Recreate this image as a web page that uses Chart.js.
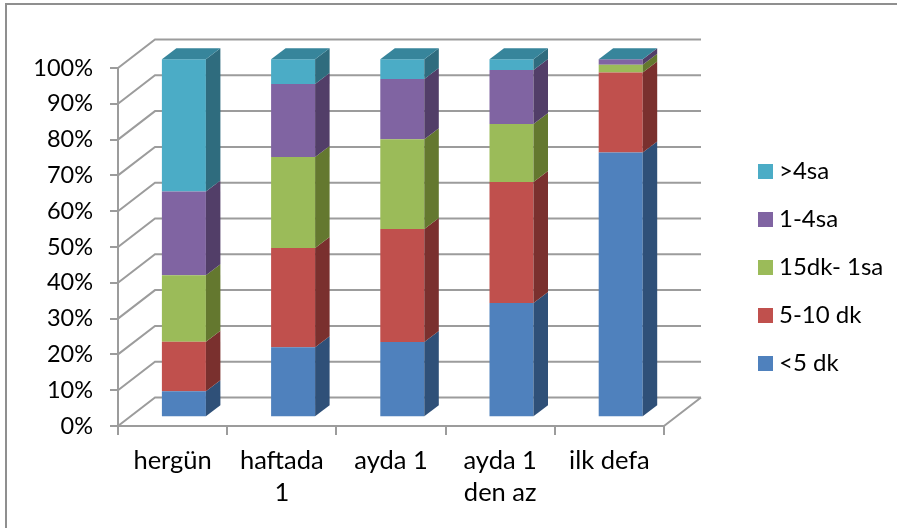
<!DOCTYPE html>
<html>
<head>
<meta charset="utf-8">
<style>
  html, body { margin: 0; background: #fff; }
  canvas { display: block; }
</style>
<script src="https://cdn.jsdelivr.net/npm/chart.js@4"></script>
</head>
<body>
<canvas id="sureChart" width="897" height="528"></canvas>
<script>
const categories = ['hergün', ['haftada', '1'], 'ayda 1', ['ayda 1', 'den az'], 'ilk defa'];
const under5dk = [7.3, 19.6, 21, 31.9, 74];
const dk5to10 = [13.8, 27.7, 31.6, 33.8, 22.3];
const dk15to1sa = [18.6, 25.4, 25.1, 16.2, 2.2];
const sa1to4 = [23.4, 20.4, 16.8, 15.1, 1.5];
const over4sa = [36.9, 6.9, 5.5, 3, 0];
const yTicks = [0, 10, 20, 30, 40, 50, 60, 70, 80, 90, 100];

const FONT = 'Lato, "Open Sans", sans-serif';
const GRID = '#9c9c9c';
const INK = '#000';

// depth of the box behind the axis plane, and of the bars inside it
const wallDx = 37, wallDy = -28.5;
const barDx = 11.3, barDy = -8.7;
const sideDx = 14.5, sideDy = -11;

const sideColors = ['#2f5078', '#7a302e', '#64782f', '#523e68', '#2f6c7e'];
const topColor = '#37859b';

const box3d = {
  id: 'box3d',
  afterLayout(chart) {
    const legend = chart.legend;
    const h = legend.bottom - legend.top;
    const w = legend.right - legend.left;
    legend.left = 740;
    legend.right = 740 + w;
    legend.top = 267 - h / 2;
    legend.bottom = 267 + h / 2;
  },
  beforeDraw(chart) {
    const { ctx } = chart;
    ctx.save();
    ctx.strokeStyle = '#8f8f8f';
    ctx.lineWidth = 2;
    ctx.beginPath();
    ctx.moveTo(6, 528);
    ctx.lineTo(6, 4);
    ctx.lineTo(897, 4);
    ctx.stroke();
    ctx.restore();
  },
  beforeDatasetsDraw(chart) {
    const { ctx, chartArea: area, scales: { y } } = chart;
    ctx.save();
    ctx.strokeStyle = GRID;
    ctx.lineWidth = 2;
    ctx.beginPath();
    yTicks.forEach((t) => {
      const py = y.getPixelForValue(t);
      ctx.moveTo(area.left, py);
      ctx.lineTo(area.left + wallDx, py + wallDy);
      ctx.lineTo(area.right + wallDx, py + wallDy);
    });
    // right edge of the floor
    ctx.moveTo(area.right, area.bottom);
    ctx.lineTo(area.right + wallDx, area.bottom + wallDy);
    ctx.stroke();
    ctx.restore();

    // bars sit partway into the box
    ctx.save();
    ctx.translate(barDx, barDy);
  },
  afterDatasetsDraw(chart) {
    const { ctx } = chart;
    const last = chart.data.datasets.length - 1;
    chart.data.datasets.forEach((ds, i) => {
      chart.getDatasetMeta(i).data.forEach((bar) => {
        const right = bar.x + bar.width / 2;
        const left = bar.x - bar.width / 2;
        ctx.fillStyle = sideColors[i];
        ctx.beginPath();
        ctx.moveTo(right, bar.y);
        ctx.lineTo(right + sideDx, bar.y + sideDy);
        ctx.lineTo(right + sideDx, bar.base + sideDy);
        ctx.lineTo(right, bar.base);
        ctx.closePath();
        ctx.fill();
        if (i === last) {
          ctx.fillStyle = topColor;
          ctx.beginPath();
          ctx.moveTo(left, bar.y);
          ctx.lineTo(left + sideDx, bar.y + sideDy);
          ctx.lineTo(right + sideDx, bar.y + sideDy);
          ctx.lineTo(right, bar.y);
          ctx.closePath();
          ctx.fill();
        }
      });
    });
    ctx.restore();
  }
};

function makeSeries(label, data, color) {
  return { label, data, backgroundColor: color, borderWidth: 0, clip: false };
}

// square legend key, kept as a canvas so the label can sit close to it
function makeSwatch(color) {
  const c = document.createElement('canvas');
  c.width = 15;
  c.height = 15;
  const g = c.getContext('2d');
  g.fillStyle = color;
  g.fillRect(0, 0, 15, 15);
  return c;
}

function legendItems(chart) {
  const items = Chart.defaults.plugins.legend.labels.generateLabels(chart);
  items.forEach((item) => { item.pointStyle = makeSwatch(item.fillStyle); });
  return items;
}

new Chart(document.getElementById('sureChart'), {
  type: 'bar',
  data: {
    labels: categories,
    datasets: [
      makeSeries('<5 dk', under5dk, '#4f81bd'),
      makeSeries('5-10 dk', dk5to10, '#c0504d'),
      makeSeries('15dk- 1sa', dk15to1sa, '#9bbb59'),
      makeSeries('1-4sa', sa1to4, '#8064a2'),
      makeSeries('>4sa', over4sa, '#4bacc6')
    ]
  },
  plugins: [box3d],
  options: {
    responsive: false,
    animation: false,
    barPercentage: 0.403,
    categoryPercentage: 1,
    layout: { padding: { top: 68, right: 233, left: 0, bottom: 0 } },
    scales: {
      x: {
        stacked: true,
        afterFit: (axis) => { axis.height = 102; },
        border: { color: GRID, width: 2 },
        grid: { display: true, drawOnChartArea: false, color: GRID, lineWidth: 2, tickLength: 9, offset: true },
        ticks: {
          color: INK,
          padding: 10,
          maxRotation: 0,
          autoSkip: false,
          font: { family: FONT, size: 25.5, lineHeight: 1.26 }
        }
      },
      y: {
        stacked: true,
        min: 0,
        max: 100,
        afterFit: (axis) => { axis.width = 118; },
        afterBuildTicks: (axis) => { axis.ticks = yTicks.map((value) => ({ value })); },
        border: { color: GRID, width: 2 },
        grid: { display: true, drawOnChartArea: false, color: GRID, lineWidth: 2, tickLength: 8 },
        ticks: {
          color: INK,
          padding: 17,
          font: { family: FONT, size: 23.5 },
          callback: (v) => `${v}%`
        }
      }
    },
    plugins: {
      tooltip: { enabled: false },
      legend: {
        position: 'chartArea',
        reverse: true,
        labels: {
          usePointStyle: true,
          pointStyleWidth: 3,
          boxHeight: 15,
          padding: 24,
          color: INK,
          font: { family: FONT, size: 24 },
          generateLabels: legendItems
        }
      }
    }
  }
});
</script>
</body>
</html>
